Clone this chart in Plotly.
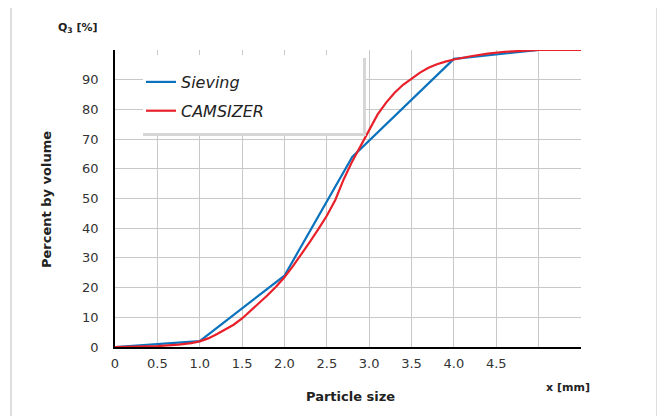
import plotly.graph_objects as go

# ---- data ----
sieving_x = [0, 1.0, 2.0, 2.8, 4.0, 5.0, 5.5]
sieving_y = [0, 2, 24, 64, 97, 100, 100]

camsizer_x = [0, 0.25, 0.5, 0.75, 0.9, 1.0, 1.1, 1.2, 1.3, 1.4, 1.5, 1.6, 1.7, 1.8, 1.9,
              2.0, 2.1, 2.2, 2.3, 2.4, 2.5, 2.6, 2.7, 2.8, 2.9, 3.0, 3.1, 3.2, 3.3, 3.4,
              3.5, 3.6, 3.7, 3.8, 3.9, 4.0, 4.2, 4.4, 4.6, 4.8, 5.0, 5.5]
camsizer_y = [0, 0.1, 0.3, 0.8, 1.3, 1.9, 2.9, 4.3, 5.8, 7.5, 9.6, 12.2, 14.7, 17.4, 20.3,
              23.5, 27.2, 31.2, 35.4, 39.7, 44.2, 49.5, 56.5, 62.5, 67.8, 73.5, 78.3, 82.3, 85.6, 88.3,
              90.5, 92.4, 94.0, 95.2, 96.1, 96.8, 97.9, 98.8, 99.4, 99.8, 100, 100]

x_tickvals = [0, 0.5, 1.0, 1.5, 2.0, 2.5, 3.0, 3.5, 4.0, 4.5]
x_ticktext = ["0", "0.5", "1.0", "1.5", "2.0", "2.5", "3.0", "3.5", "4.0", "4.5"]
x_extra_grid = [5.0, 5.5]
y_tickvals = [0, 10, 20, 30, 40, 50, 60, 70, 80, 90]
y_ticktext = ["0", "10", "20", "30", "40", "50", "60", "70", "80", "90"]
y_extra_grid = [100]

FONT = "DejaVu Sans, Verdana, sans-serif"

# page body has an 8px margin; positions below are window pixels
OFF = 8
L, R, T, B = 115, 581, 50, 347
W, H = 665 - OFF, 416 - OFF
def px(x):
    return (x - L) / (R - L)
def py(y):
    return (B - y) / (B - T)

fig = go.Figure()
fig.add_trace(go.Scatter(x=sieving_x, y=sieving_y, mode="lines", name="<i>Sieving</i>",
                         legendgroup="a", line=dict(color="#0b72bd", width=2.2)))
fig.add_trace(go.Scatter(x=camsizer_x, y=camsizer_y, mode="lines", name="<i>CAMSIZER</i>",
                         legendgroup="b", line=dict(color="#e8202a", width=2.2)))

shapes = [
    dict(type="rect", xref="paper", yref="paper", x0=px(11), x1=px(657), y0=py(6), y1=py(430),
         line=dict(color="#d3d3d3", width=1.5), fillcolor="rgba(0,0,0,0)", layer="below"),
    dict(type="rect", xref="paper", yref="paper", x0=px(143), x1=px(363), y0=py(133), y1=py(55),
         line=dict(width=0), fillcolor="white", layer="above"),
    dict(type="rect", xref="paper", yref="paper", x0=px(363), x1=px(366), y0=py(136), y1=py(58),
         line=dict(width=0), fillcolor="#d6d6d6", layer="above"),
    dict(type="rect", xref="paper", yref="paper", x0=px(143), x1=px(366), y0=py(136), y1=py(133),
         line=dict(width=0), fillcolor="#d6d6d6", layer="above"),
]

annotations = [
    dict(text="<b>Q<sub>3</sub> [%]</b>", x=px(78), y=py(28), xref="paper", yref="paper",
         showarrow=False, font=dict(family=FONT, size=11, color="#222"), xanchor="center", yanchor="middle"),
    dict(text="<b>x [mm]</b>", x=px(568), y=py(387), xref="paper", yref="paper",
         showarrow=False, font=dict(family=FONT, size=11, color="#222"), xanchor="center", yanchor="middle"),
    dict(text="<b>Particle size</b>", x=px(350), y=py(396), xref="paper", yref="paper",
         showarrow=False, font=dict(family=FONT, size=13, color="#222"), xanchor="center", yanchor="middle"),
    dict(text="<b>Percent by volume</b>", x=px(47), y=py(200), xref="paper", yref="paper", textangle=-90,
         showarrow=False, font=dict(family=FONT, size=13, color="#222"), xanchor="center", yanchor="middle"),
]

fig.update_layout(
    width=W, height=H,
    margin=dict(l=L - OFF, r=W - (R - OFF), t=T - OFF, b=H - (B - OFF), pad=0),
    paper_bgcolor="white", plot_bgcolor="white",
    font=dict(family=FONT, size=13, color="#333"),
    shapes=shapes, annotations=annotations,
    showlegend=True,
    legend=dict(x=px(141), y=py(65), xanchor="left", yanchor="top",
                bgcolor="rgba(0,0,0,0)", borderwidth=0,
                font=dict(family=FONT, size=16, color="#222"),
                tracegroupgap=5, itemwidth=30),
)

fig.update_xaxes(range=[0, 5.5], tickvals=x_tickvals, ticktext=x_ticktext,
                 showgrid=True, gridcolor="#c8c8c8", gridwidth=1,
                 minor=dict(tickvals=x_extra_grid, showgrid=True, gridcolor="#c8c8c8", gridwidth=1, ticks=""),
                 showline=True, linecolor="black", linewidth=1.5,
                 ticks="outside", ticklen=4, tickcolor="rgba(0,0,0,0)",
                 zeroline=False, tickfont=dict(family=FONT, size=13, color="#333"))
fig.update_yaxes(range=[0, 100], tickvals=y_tickvals, ticktext=y_ticktext,
                 showgrid=True, gridcolor="#c8c8c8", gridwidth=1,
                 minor=dict(tickvals=y_extra_grid, showgrid=True, gridcolor="#c8c8c8", gridwidth=1, ticks=""),
                 showline=True, linecolor="black", linewidth=1.5,
                 ticks="outside", ticklen=12, tickcolor="rgba(0,0,0,0)",
                 zeroline=False, tickfont=dict(family=FONT, size=13, color="#333"))

fig.write_html("out.html")
